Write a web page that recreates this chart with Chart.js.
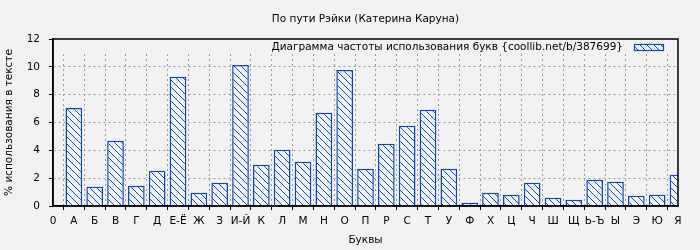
<!DOCTYPE html>
<html>
<head>
<meta charset="utf-8">
<script src="https://cdn.jsdelivr.net/npm/chart.js@4/dist/chart.umd.min.js"></script>
<style>
  html, body { margin: 0; padding: 0; background: #f2f2f2; }
  #wrap { width: 700px; height: 250px; }
</style>
</head>
<body>
<div id="wrap"><canvas id="chart" width="700" height="250"></canvas></div>
<script>
// ---- data ----
const chartTitle = "По пути Рэйки (Катерина Каруна)";
const seriesName = "Диаграмма частоты использования букв {coollib.net/b/387699}";
const xTitle = "Буквы";
const yTitle = "% использования в тексте";

const tickLabels = ["0", "А", "Б", "В", "Г", "Д", "Е-Ё", "Ж", "З", "И-Й", "К", "Л", "М", "Н", "О",
  "П", "Р", "С", "Т", "У", "Ф", "Х", "Ц", "Ч", "Ш", "Щ", "Ь-Ъ", "Ы", "Э", "Ю", "Я"];

const percents = [null, 7.05, 1.38, 4.68, 1.45, 2.53, 9.28, 0.95, 1.67, 10.14, 2.96, 4.04, 3.18, 6.70, 9.78,
  2.67, 4.47, 5.76, 6.91, 2.67, 0.23, 0.95, 0.80, 1.67, 0.59, 0.45, 1.88, 1.74, 0.73, 0.80, 2.24];

const yMax = 12;
const yStep = 2;

// ---- styles ----
const BLUE = "#0a46b8";
const BG = "#f2f2f2";
const FONT = "'DejaVu Sans', sans-serif";
const FSIZE = 10.5;

// diagonal hatch "\\\"
function makeHatch() {
  const s = 7;
  const c = document.createElement("canvas");
  c.width = s; c.height = s;
  const g = c.getContext("2d");
  g.fillStyle = "#f4f5f8";
  g.fillRect(0, 0, s, s);
  g.strokeStyle = BLUE;
  g.lineWidth = 1;
  g.beginPath();
  g.moveTo(-1, -1); g.lineTo(s + 1, s + 1);
  g.moveTo(-1, s - 1); g.lineTo(1, s + 1);
  g.moveTo(s - 1, -1); g.lineTo(s + 1, 1);
  g.stroke();
  return g.createPattern(c, "repeat");
}
const hatch = makeHatch();

/* =======================
   PLUGIN: фон, заголовок, легенда, рамка
======================= */
const framePlugin = {
  id: "frame",
  beforeDraw(chart) {
    const ctx = chart.ctx;
    ctx.save();
    ctx.fillStyle = BG;
    ctx.fillRect(0, 0, chart.width, chart.height);
    ctx.restore();
  },
  beforeDatasetsDraw(chart) {
    const { ctx, chartArea: a } = chart;
    ctx.save();
    // полоса легенды закрывает верх сетки
    ctx.fillStyle = BG;
    ctx.fillRect(a.left + 1, a.top, a.right - a.left - 1, 14);
    ctx.restore();
  },
  afterDraw(chart) {
    const { ctx, chartArea: a } = chart;
    ctx.save();
    ctx.font = FSIZE + "px " + FONT;
    ctx.fillStyle = "#000";
    ctx.textBaseline = "middle";
    // заголовок по центру области графика
    ctx.textAlign = "center";
    ctx.fillText(chartTitle, (a.left + a.right) / 2, 19);
    // легенда
    ctx.textAlign = "right";
    ctx.fillText(seriesName, a.right - 55, a.top + 8);
    ctx.fillStyle = hatch;
    ctx.fillRect(a.right - 44, a.top + 5, 30, 6);
    ctx.strokeStyle = BLUE;
    ctx.lineWidth = 1.2;
    ctx.strokeRect(a.right - 44 + 0.5, a.top + 5 + 0.5, 29, 6);
    // рамка
    ctx.strokeStyle = "#000";
    ctx.lineWidth = 1.5;
    ctx.beginPath();
    ctx.moveTo(a.left, a.top);
    ctx.lineTo(a.right, a.top);
    ctx.lineTo(a.right, a.bottom);
    ctx.lineTo(a.left, a.bottom);
    ctx.closePath();
    ctx.stroke();
    ctx.restore();
  }
};

new Chart(document.getElementById("chart"), {
  type: "bar",
  data: {
    labels: tickLabels,
    datasets: [{
      label: seriesName,
      data: percents,
      backgroundColor: hatch,
      borderColor: BLUE,
      borderWidth: 1.5,
      categoryPercentage: 1,
      barPercentage: 0.8
    }]
  },
  options: {
    responsive: false,
    animation: false,
    layout: { padding: { left: 0, right: 22, top: 39, bottom: 0 } },
    plugins: {
      legend: { display: false },
      tooltip: { enabled: false },
      title: { display: false }
    },
    scales: {
      x: {
        offset: false,
        grid: {
          color: "#999",
          tickColor: "#000",
          tickLength: 4,
          tickBorderDash: []
        },
        border: { color: "#000", width: 1.5, dash: [2, 3] },
        ticks: {
          autoSkip: false,
          maxRotation: 0,
          padding: 5,
          color: "#000",
          font: { family: FONT, size: FSIZE }
        },
        title: {
          display: true,
          text: xTitle,
          color: "#000",
          font: { family: FONT, size: FSIZE },
          padding: { top: 0, bottom: 3 }
        },
        afterFit(scale) { scale.height = 44; }
      },
      y: {
        min: 0,
        max: yMax,
        grid: {
          color: "#999",
          tickColor: "#000",
          tickLength: 4,
          tickBorderDash: []
        },
        border: { color: "#000", width: 1.5, dash: [2, 3] },
        ticks: {
          stepSize: yStep,
          padding: 9,
          color: "#000",
          font: { family: FONT, size: FSIZE }
        },
        title: {
          display: true,
          text: yTitle,
          color: "#000",
          font: { family: FONT, size: FSIZE },
          padding: { top: 3, bottom: 0 }
        },
        afterFit(scale) { scale.width = 53; }
      }
    }
  },
  plugins: [framePlugin]
});
</script>
</body>
</html>
